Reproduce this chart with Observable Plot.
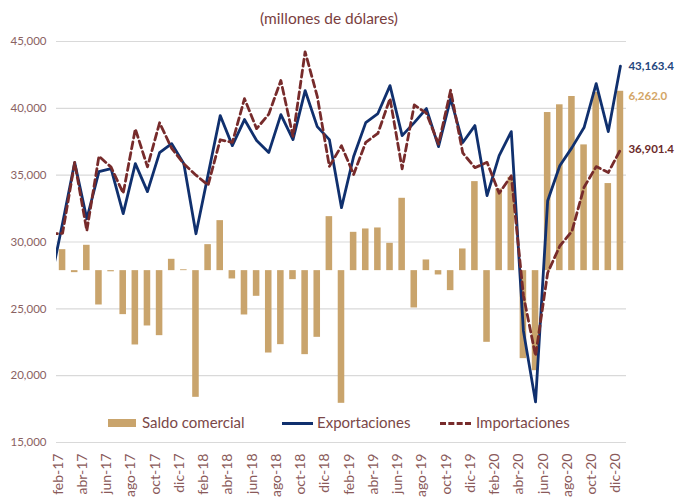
<!DOCTYPE html>
<html>
<head>
<meta charset="utf-8">
<script src="https://cdn.jsdelivr.net/npm/d3@7"></script>
<script src="https://cdn.jsdelivr.net/npm/@observablehq/plot@0.6"></script>
<style>
  body { margin: 0; background: #ffffff; }
  #wrap { position: relative; width: 675px; height: 499px; overflow: hidden; font-family: Lato, "Open Sans", sans-serif; background: #fff; }
  #chart { position: absolute; left: 0; top: 0; }
  #title { position: absolute; top: 9px; left: 229px; width: 200px; text-align: center; font-size: 15.5px; color: #7a3e3e; white-space: nowrap; }
  .leg { position: absolute; top: 413px; font-size: 15px; color: #7b4848; white-space: nowrap; line-height: 18px; }
  .sw { position: absolute; }
</style>
</head>
<body>
<div id="wrap">
  <div id="chart"></div>
  <div id="title">(millones de dólares)</div>
  <div class="leg" style="left:108px;"><span class="sw" style="left:0;top:6px;width:28px;height:8px;background:#c9a46c;"></span><span style="position:absolute;left:34px;">Saldo comercial</span></div>
  <div class="leg" style="left:282px;"><span class="sw" style="left:0;top:9px;width:31px;height:3px;background:#10306e;"></span><span style="position:absolute;left:35px;">Exportaciones</span></div>
  <div class="leg" style="left:440px;"><span class="sw" style="left:0;top:9px;width:31px;height:0;border-top:3px dashed #772b2b;"></span><span style="position:absolute;left:36px;">Importaciones</span></div>
</div>
<script>
// Months (ene-17 lies just left of the visible plot area and is clipped)
const months = [
  "ene-17","feb-17","mar-17","abr-17","may-17","jun-17","jul-17","ago-17","sep-17","oct-17","nov-17","dic-17",
  "ene-18","feb-18","mar-18","abr-18","may-18","jun-18","jul-18","ago-18","sep-18","oct-18","nov-18","dic-18",
  "ene-19","feb-19","mar-19","abr-19","may-19","jun-19","jul-19","ago-19","sep-19","oct-19","nov-19","dic-19",
  "ene-20","feb-20","mar-20","abr-20","may-20","jun-20","jul-20","ago-20","sep-20","oct-20","nov-20","dic-20"
];
const exportaciones = [
  27000, 31400, 35940, 31740, 35260, 35490, 32120, 35860, 33770, 36690, 37360, 35860,
  30620, 35040, 39460, 37210, 39160, 37590, 36690, 39530, 37660, 41330, 38630, 37660,
  32570, 36400, 38930, 39610, 41700, 37960, 38930, 39980, 37140, 40730, 37440, 38710,
  33470, 36460, 38260, 23350, 18040, 33090, 35710, 37060, 38560, 41850, 38260, 43163.4
];
const importaciones = [
  30600, 30650, 35950, 30850, 36420, 35600, 33650, 38460, 35620, 38920, 37000, 35850,
  35000, 34250, 37650, 37450, 40720, 38480, 39560, 42080, 37900, 44230, 40900, 35650,
  37200, 35050, 37460, 38120, 40740, 35480, 40250, 39640, 37320, 41350, 36660, 35560,
  35960, 33650, 34950, 26000, 21480, 27700, 29700, 30800, 34100, 35640, 35200, 36901.4
];
const saldo = [
  null,   733,   -70,   885, -1199,   -40, -1536, -2595, -1932, -2270,   396,    30,
  -4423,   908,  1746,  -291, -1548,  -896, -2876, -2584,  -314, -2933, -2328,  1885,
  -4632,  1338,  1455,  1490,   954,  2526, -1303,   373,  -151,  -698,   757,  3108,
  -2502,  2853,  3258, -3072, -3492,  5520,  5790,  6080,  4390,  6220,  3040,  6262.0
];
const yTicks = [15000, 20000, 25000, 30000, 35000, 40000, 45000];
const xTickLabels = months.filter((m, i) => i % 2 === 1); // feb, abr, jun, ago, oct, dic

const rows = months.map((m, i) => ({i, m, exp: exportaciones[i], imp: importaciones[i], saldo: saldo[i]}));
const barRows = rows.filter(d => d.saldo != null);
const xTicks = rows.filter(d => xTickLabels.includes(d.m));
const last = rows[rows.length - 1];

// secondary axis for the trade balance (hidden in the original): -6,000 .. 8,000
const y2 = d3.scaleLinear().domain([-6000, 8000]).range([15000, 45000]);
const fmtTick = d3.format(",");
const fmtEnd = d3.format(",.1f");

const chart = Plot.plot({
  width: 675,
  height: 499,
  marginLeft: 56,
  marginRight: 49,
  marginTop: 41,
  marginBottom: 57,
  x: {type: "linear", domain: [0.5, 47.5], axis: null},
  y: {domain: [15000, 45000], axis: null},
  style: {fontFamily: "Lato, 'Open Sans', sans-serif", background: "transparent", overflow: "visible"},
  marks: [
    Plot.ruleY(yTicks, {stroke: "#d9d9d9", strokeWidth: 1.2}),
    Plot.text(yTicks, {y: d => d, text: d => fmtTick(d), frameAnchor: "left", textAnchor: "end", dx: -10, fill: "#8a6262", fontSize: 11.5}),
    Plot.rectY(barRows, {x1: d => d.i - 0.27, x2: d => d.i + 0.27, y1: d => y2(0), y2: d => y2(d.saldo), fill: "#c9a46c"}),
    Plot.line(rows, {x: "i", y: "exp", stroke: "#10306e", strokeWidth: 2.8, clip: true}),
    Plot.line(rows, {x: "i", y: "imp", stroke: "#772b2b", strokeWidth: 2.8, strokeDasharray: "7,4", clip: true}),
    Plot.text(xTicks, {x: "i", text: "m", frameAnchor: "bottom", rotate: -90, textAnchor: "end", dy: 11, fill: "#8a5a5a", fontSize: 14}),
    Plot.text([last], {x: "i", y: "exp", text: d => fmtEnd(d.exp), dx: 8, textAnchor: "start", fill: "#24467e", fontWeight: "bold", fontSize: 11.5}),
    Plot.text([last], {x: "i", y: d => y2(d.saldo), text: d => fmtEnd(d.saldo), dx: 8, dy: 5, textAnchor: "start", fill: "#d3a565", fontWeight: "bold", fontSize: 11.5}),
    Plot.text([last], {x: "i", y: "imp", text: d => fmtEnd(d.imp), dx: 8, textAnchor: "start", fill: "#6b2a2a", fontWeight: "bold", fontSize: 11.5})
  ]
});
document.getElementById("chart").appendChild(chart);
</script>
</body>
</html>
